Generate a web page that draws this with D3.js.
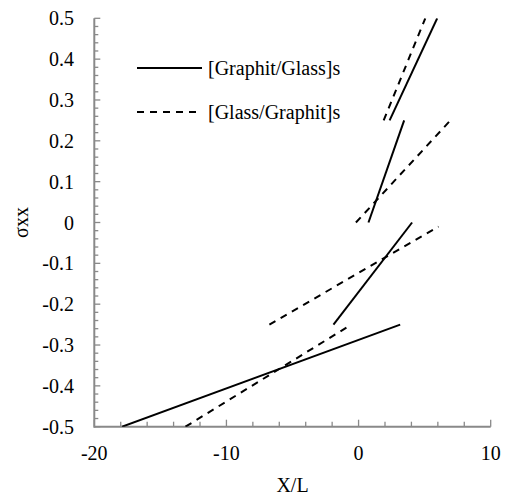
<!DOCTYPE html>
<html>
<head>
<meta charset="utf-8">
<script src="https://cdn.jsdelivr.net/npm/d3@7"></script>
<style>
	html, body { margin: 0; padding: 0; background: #fff; }
	svg { display: block; }
	svg text { font-family: "Liberation Serif", "DejaVu Serif", serif; }
</style>
</head>
<body>
<script>
// Segments, one [x, y] pair per end
const graphitGlass = [
	[[-17.9, -0.5], [3.15, -0.25]],
	[[-1.9, -0.25], [4.05, 0]],
	[[0.75, 0], [3.45, 0.25]],
	[[2.35, 0.25], [5.95, 0.5]]
];
const glassGraphit = [
	[[-13.1, -0.5], [-0.55, -0.25]],
	[[-6.75, -0.25], [6.05, -0.01]],
	[[-0.2, 0], [6.95, 0.25]],
	[[1.9, 0.25], [5.05, 0.5]]
];
const seriesNames = ["[Graphit/Glass]s", "[Glass/Graphit]s"];
const xTicks = [-20, -10, 0, 10];
const yTicks = [-0.5, -0.4, -0.3, -0.2, -0.1, 0, 0.1, 0.2, 0.3, 0.4, 0.5];

const width = 505, height = 495;
const margin = {left: 94.3, right: 505 - 490.7, top: 18.3, bottom: 495 - 426.7};

const svg = d3.select("body").append("svg")
	.attr("width", width)
	.attr("height", height);

const x = d3.scaleLinear().domain([-20, 10]).range([margin.left, width - margin.right]);
const y = d3.scaleLinear().domain([-0.5, 0.5]).range([height - margin.bottom, margin.top]);

const axisColor = "#898989";

// minor ticks (inside the plot)
const xMinor = d3.range(-20, 10.001, 2);
const yMinor = d3.range(-0.5, 0.5001, 0.02);

svg.append("g").selectAll("line")
	.data(xMinor)
	.join("line")
	.attr("x1", d => x(d)).attr("x2", d => x(d))
	.attr("y1", y(-0.5)).attr("y2", d => y(-0.5) - (Math.round(d) % 10 == 0 ? 7 : 5))
	.attr("stroke", axisColor)
	.attr("stroke-width", 1.3);

svg.append("g").selectAll("line")
	.data(yMinor)
	.join("line")
	.attr("y1", d => y(d)).attr("y2", d => y(d))
	.attr("x1", x(-20)).attr("x2", (d, i) => x(-20) + (i % 5 == 0 ? 6 : 4))
	.attr("stroke", axisColor)
	.attr("stroke-width", 1.3);

// axis lines
svg.append("line")
	.attr("x1", x(-20)).attr("x2", x(10))
	.attr("y1", y(-0.5)).attr("y2", y(-0.5))
	.attr("stroke", axisColor).attr("stroke-width", 2);
svg.append("line")
	.attr("x1", x(-20)).attr("x2", x(-20))
	.attr("y1", y(-0.5) + 1).attr("y2", y(0.5))
	.attr("stroke", axisColor).attr("stroke-width", 2);

// tick labels
svg.append("g").selectAll("text")
	.data(xTicks)
	.join("text")
	.attr("x", d => x(d))
	.attr("y", 460)
	.attr("text-anchor", "middle")
	.attr("font-size", 20)
	.text(d => String(d));

svg.append("g").selectAll("text")
	.data(yTicks)
	.join("text")
	.attr("x", 74)
	.attr("y", d => y(d))
	.attr("dy", "0.35em")
	.attr("text-anchor", "end")
	.attr("font-size", 20)
	.text(d => String(d));

// axis titles
svg.append("text")
	.attr("x", (x(-20) + x(10)) / 2)
	.attr("y", 492)
	.attr("text-anchor", "middle")
	.attr("font-size", 20)
	.text("X/L");

svg.append("text")
	.attr("transform", "translate(28," + y(0) + ") rotate(-90)")
	.attr("text-anchor", "middle")
	.attr("font-size", 20)
	.text("σxx");

// data segments
const clipId = "plotclip";
svg.append("clipPath").attr("id", clipId)
	.append("rect")
	.attr("x", x(-20)).attr("y", y(0.5))
	.attr("width", x(10) - x(-20)).attr("height", y(-0.5) - y(0.5));

const line = d3.line().x(d => x(d[0])).y(d => y(d[1]));

const plot = svg.append("g").attr("clip-path", "url(#" + clipId + ")");

plot.selectAll("path.solid")
	.data(graphitGlass)
	.join("path")
	.attr("class", "solid")
	.attr("d", line)
	.attr("fill", "none")
	.attr("stroke", "#000")
	.attr("stroke-width", 2);

plot.selectAll("path.dashed")
	.data(glassGraphit)
	.join("path")
	.attr("class", "dashed")
	.attr("d", line)
	.attr("fill", "none")
	.attr("stroke", "#000")
	.attr("stroke-width", 2)
	.attr("stroke-dasharray", "7,6");

// legend
const legend = svg.append("g");
const legendY = [68, 112];
legendY.forEach((ly, i) => {
	legend.append("line")
		.attr("x1", 137).attr("x2", 202)
		.attr("y1", ly).attr("y2", ly)
		.attr("stroke", "#000")
		.attr("stroke-width", 2)
		.attr("stroke-dasharray", i == 1 ? "7,6" : null);
	legend.append("text")
		.attr("x", 208)
		.attr("y", ly)
		.attr("dy", "0.35em")
		.attr("font-size", 20)
		.text(seriesNames[i]);
});
</script>
</body>
</html>
